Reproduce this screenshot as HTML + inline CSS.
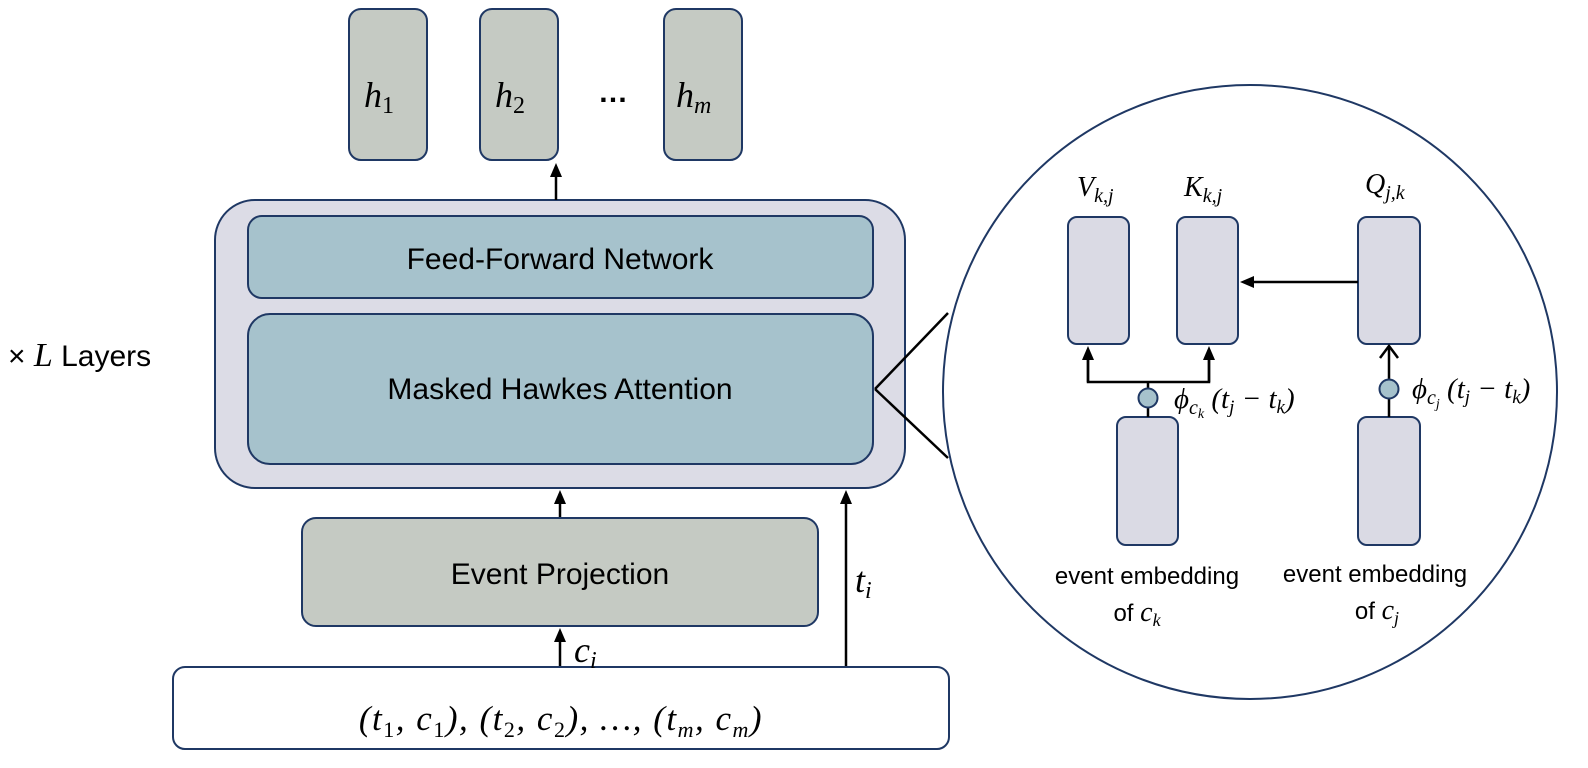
<!DOCTYPE html>
<html><head><meta charset="utf-8"><style>
body{margin:0;background:#fff}
svg{display:block}
.s{font-family:"Liberation Sans",sans-serif;fill:#000}
.m{font-family:"Liberation Serif",serif;font-style:italic;fill:#000}
</style></head><body>
<svg width="1588" height="768" viewBox="0 0 1588 768" xmlns="http://www.w3.org/2000/svg">
<defs>
<marker id="a" markerWidth="14" markerHeight="12" refX="7" refY="6" orient="auto" markerUnits="userSpaceOnUse"><path d="M0,0 L14,6 L0,12 Z" fill="#000"/></marker>
</defs>
<g stroke="#1f3864" stroke-width="2">
<rect x="349" y="9" width="78" height="151" rx="12" fill="#c5cac3"/>
<rect x="480" y="9" width="78" height="151" rx="12" fill="#c5cac3"/>
<rect x="664" y="9" width="78" height="151" rx="12" fill="#c5cac3"/>
<rect x="215" y="200" width="690" height="288" rx="40" fill="#dcdce6"/>
<rect x="248" y="216" width="625" height="82" rx="14" fill="#a6c2cc"/>
<rect x="248" y="314" width="625" height="150" rx="22" fill="#a6c2cc"/>
<rect x="302" y="518" width="516" height="108" rx="14" fill="#c5cac3"/>
<rect x="173" y="667" width="776" height="82" rx="12" fill="#fff"/>
<circle cx="1250" cy="392" r="307" fill="#fff"/>
<rect x="1068" y="217" width="61" height="127" rx="9" fill="#dadae4"/>
<rect x="1177" y="217" width="61" height="127" rx="9" fill="#dadae4"/>
<rect x="1358" y="217" width="62" height="127" rx="9" fill="#dadae4"/>
<rect x="1117" y="417" width="61" height="128" rx="9" fill="#dadae4"/>
<rect x="1358" y="417" width="62" height="128" rx="9" fill="#dadae4"/>
</g>
<g stroke="#000" stroke-width="2.5" fill="none">
<line x1="556" y1="200" x2="556" y2="170" marker-end="url(#a)"/>
<line x1="560" y1="517" x2="560" y2="497" marker-end="url(#a)"/>
<line x1="560" y1="666" x2="560" y2="635" marker-end="url(#a)"/>
<line x1="846" y1="666" x2="846" y2="497" marker-end="url(#a)"/>
<line x1="875" y1="389" x2="948" y2="313"/>
<line x1="875" y1="389" x2="948" y2="458"/>
<line x1="1358" y1="282" x2="1247" y2="282" marker-end="url(#a)"/>
<polyline points="1088,352 1088,382 1209,382 1209,352"/>
<line x1="1088" y1="382" x2="1088" y2="353" marker-end="url(#a)"/>
<line x1="1209" y1="382" x2="1209" y2="353" marker-end="url(#a)"/>
<line x1="1148" y1="382" x2="1148" y2="417"/>
<line x1="1389" y1="417" x2="1389" y2="346"/>
<polyline points="1380,358 1389,346 1398,358"/>
</g>
<circle cx="1148" cy="398" r="9.5" fill="#a6c2cc" stroke="#1f3864" stroke-width="2"/>
<circle cx="1389" cy="389" r="9.5" fill="#a6c2cc" stroke="#1f3864" stroke-width="2"/>
<text class="m" x="364" y="107" font-size="36">h<tspan font-size="24" font-style="normal" dy="6">1</tspan></text>
<text class="m" x="495" y="107" font-size="36">h<tspan font-size="24" font-style="normal" dy="6">2</tspan></text>
<text class="m" x="676" y="107" font-size="36">h<tspan font-size="24" dy="6">m</tspan></text>
<text class="s" x="598" y="102" font-size="30" font-weight="bold">…</text>
<text class="s" x="560" y="269" font-size="30" text-anchor="middle">Feed-Forward Network</text>
<text class="s" x="560" y="399" font-size="30" text-anchor="middle">Masked Hawkes Attention</text>
<text class="s" x="560" y="584" font-size="30" text-anchor="middle">Event Projection</text>
<text class="s" x="8" y="366" font-size="30">× <tspan font-family="Liberation Serif" font-style="italic" font-size="34">L</tspan> Layers</text>
<text class="m" x="574" y="662" font-size="36">c<tspan font-size="24" dy="6">i</tspan></text>
<text class="m" x="855" y="592" font-size="36">t<tspan font-size="24" dy="6">i</tspan></text>
<text class="m" x="561" y="730" font-size="35" text-anchor="middle" letter-spacing="1.5">(t<tspan font-size="22" font-style="normal" dy="7">1</tspan><tspan dy="-7">, c</tspan><tspan font-size="22" font-style="normal" dy="7">1</tspan><tspan dy="-7">), (t</tspan><tspan font-size="22" font-style="normal" dy="7">2</tspan><tspan dy="-7">, c</tspan><tspan font-size="22" font-style="normal" dy="7">2</tspan><tspan dy="-7">), …, (t</tspan><tspan font-size="22" dy="7">m</tspan><tspan dy="-7">, c</tspan><tspan font-size="22" dy="7">m</tspan><tspan dy="-7">)</tspan></text>
<text class="m" x="1077" y="196" font-size="28">V<tspan font-size="20" dy="6">k,j</tspan></text>
<text class="m" x="1184" y="196" font-size="28">K<tspan font-size="20" dy="6">k,j</tspan></text>
<text class="m" x="1365" y="193" font-size="28">Q<tspan font-size="20" dy="6">j,k</tspan></text>
<text class="m" x="1174" y="408" font-size="29">ϕ<tspan font-size="20" dy="6">c</tspan><tspan font-size="14" dy="4">k</tspan><tspan dy="-10"> (t</tspan><tspan font-size="19" dy="5">j</tspan><tspan dy="-5"> − t</tspan><tspan font-size="19" dy="5">k</tspan><tspan dy="-5">)</tspan></text>
<text class="m" x="1412" y="398" font-size="29">ϕ<tspan font-size="20" dy="6">c</tspan><tspan font-size="14" dy="4">j</tspan><tspan dy="-10"> (t</tspan><tspan font-size="19" dy="5">j</tspan><tspan dy="-5"> − t</tspan><tspan font-size="19" dy="5">k</tspan><tspan dy="-5">)</tspan></text>
<text class="s" x="1147" y="584" font-size="24" text-anchor="middle">event embedding</text>
<text class="s" x="1137" y="621" font-size="24" text-anchor="middle">of <tspan font-family="Liberation Serif" font-style="italic" font-size="28">c</tspan><tspan font-family="Liberation Serif" font-style="italic" font-size="18" dy="5">k</tspan></text>
<text class="s" x="1375" y="582" font-size="24" text-anchor="middle">event embedding</text>
<text class="s" x="1377" y="619" font-size="24" text-anchor="middle">of <tspan font-family="Liberation Serif" font-style="italic" font-size="28">c</tspan><tspan font-family="Liberation Serif" font-style="italic" font-size="18" dy="5">j</tspan></text>
</svg>
</body></html>
